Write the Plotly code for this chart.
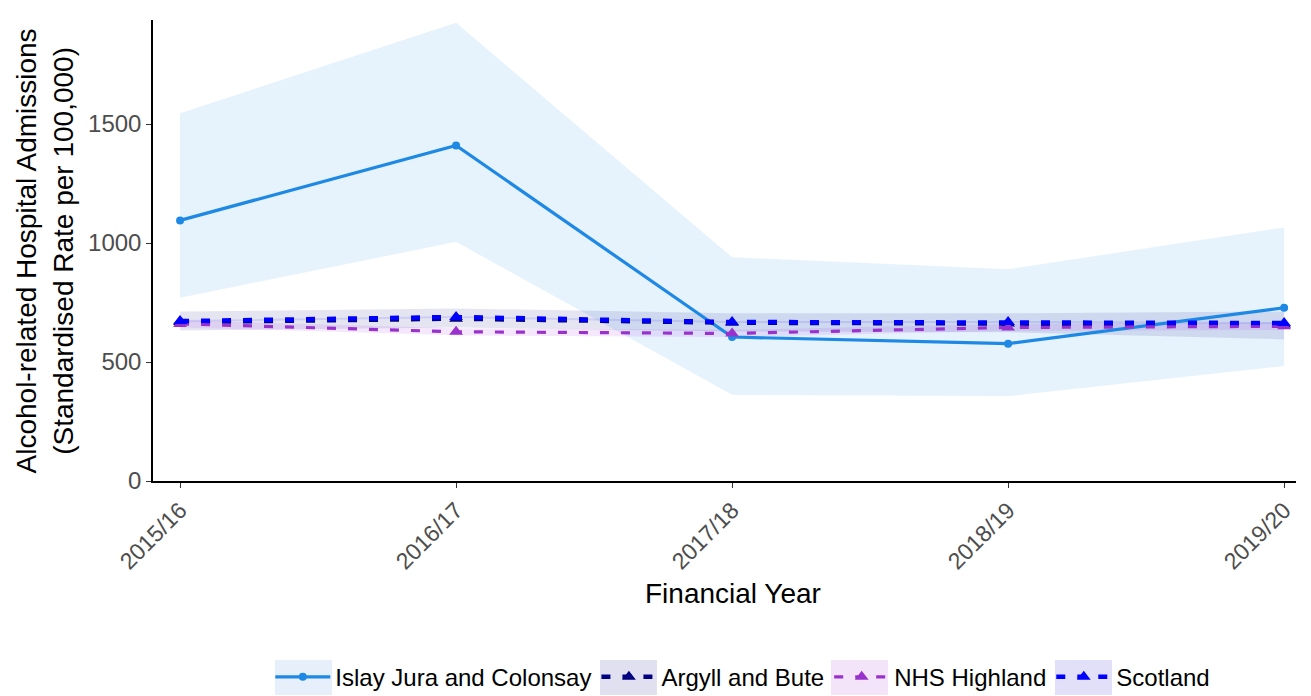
import plotly.graph_objects as go

years = ["2015/16", "2016/17", "2017/18", "2018/19", "2019/20"]
xi = list(range(len(years)))

islay = [1095, 1410, 605, 577, 728]
islay_lo = [770, 1005, 362, 357, 483]
islay_hi = [1545, 1925, 940, 890, 1065]

argyll = [668, 682, 665, 662, 658]
argyll_lo = [632, 645, 628, 625, 595]
argyll_hi = [712, 725, 705, 705, 712]

highland = [660, 627, 620, 645, 650]
highland_lo = [645, 612, 605, 630, 635]
highland_hi = [675, 642, 635, 660, 665]

scotland = [672, 689, 668, 668, 664]
scotland_lo = [668, 685, 664, 664, 660]
scotland_hi = [676, 693, 672, 672, 668]

series = [
    ("Islay Jura and Colonsay", islay, islay_lo, islay_hi, "#1E88E5", "rgba(30,136,229,0.11)", "solid", 3.2, "circle", 8),
    ("Argyll and Bute", argyll, argyll_lo, argyll_hi, "#000080", "rgba(0,0,128,0.10)", "9px,12px", 4.5, "triangle-up", 12),
    ("NHS Highland", highland, highland_lo, highland_hi, "#9932CC", "rgba(160,32,240,0.10)", "9px,12px", 3.2, "triangle-up", 12),
    ("Scotland", scotland, scotland_lo, scotland_hi, "#0000FF", "rgba(0,0,255,0.10)", "9px,12px", 4.5, "triangle-up", 12),
]

# legend key background boxes (paper coords) and their tints
key_x = [(0.1067, 0.1566), (0.3911, 0.4409), (0.5932, 0.6430), (0.7891, 0.8390)]
key_bg = ["#e6effa", "#e0e0f0", "#f3e4fa", "#e2e0f8"]

fig = go.Figure()
for name, v, lo, hi, col, fill, dash, lw, sym, ms in series:
    fig.add_trace(go.Scatter(x=xi, y=hi, mode="lines", line=dict(width=0),
                             showlegend=False, hoverinfo="skip", legendgroup=name))
    fig.add_trace(go.Scatter(x=xi, y=lo, mode="lines", line=dict(width=0),
                             fill="tonexty", fillcolor=fill, showlegend=False,
                             hoverinfo="skip", legendgroup=name))
for name, v, lo, hi, col, fill, dash, lw, sym, ms in series:
    fig.add_trace(go.Scatter(x=xi, y=v, mode="lines+markers", name=name, legendgroup=name,
                             line=dict(color=col, width=lw, dash=dash),
                             marker=dict(symbol=sym, size=ms, color=col)))

shapes = [dict(type="rect", xref="paper", yref="paper", x0=a, x1=b, y0=-0.4642, y1=-0.3883,
               fillcolor=c, line=dict(width=0), layer="below")
          for (a, b), c in zip(key_x, key_bg)]

fig.update_layout(
    width=1311, height=696,
    margin=dict(l=153, r=15, t=20, b=215, autoexpand=False),
    plot_bgcolor="white", paper_bgcolor="white",
    font=dict(family="Liberation Sans, Arial, sans-serif", size=20, color="#4d4d4d"),
    legend=dict(orientation="h", xref="paper", x=0.516, xanchor="center",
                yref="container", y=0.027, yanchor="middle",
                font=dict(size=24, color="black"), traceorder="normal",
                itemwidth=55, bgcolor="rgba(0,0,0,0)"),
    shapes=shapes,
    xaxis=dict(
        tickmode="array", tickvals=xi, ticktext=years, tickangle=-45,
        range=[-0.098, 4.043], showgrid=False, zeroline=False, automargin=False,
        showline=True, linecolor="black", linewidth=1.5,
        ticks="outside", ticklen=5, tickcolor="#333333",
        tickfont=dict(size=23, color="#4d4d4d"),
    ),
    yaxis=dict(
        range=[0, 1937], tickvals=[0, 500, 1000, 1500], showgrid=False, zeroline=False,
        automargin=False,
        showline=True, linecolor="black", linewidth=1.5,
        ticks="outside", ticklen=5, tickcolor="#333333",
        tickfont=dict(size=24, color="#4d4d4d"),
    ),
    annotations=[
        dict(text="Financial Year", xref="paper", yref="paper", x=0.507, y=-0.243,
             xanchor="center", yanchor="middle", showarrow=False,
             font=dict(size=28, color="black")),
        dict(text="Alcohol-related Hospital Admissions<br>(Standardised Rate per 100,000)",
             xref="paper", yref="paper", x=-0.0945, y=0.5, textangle=-90,
             xanchor="center", yanchor="middle", showarrow=False,
             font=dict(size=28, color="black")),
    ],
)

post = (
    "document.documentElement.style.margin='0';"
    "document.body.style.margin='0';"
    "var gd=document.getElementsByClassName('plotly-graph-div')[0];"
    "gd.style.position='fixed';gd.style.top='0px';gd.style.left='0px';"
)
fig.write_html("out.html", config={"displayModeBar": False}, post_script=post)
